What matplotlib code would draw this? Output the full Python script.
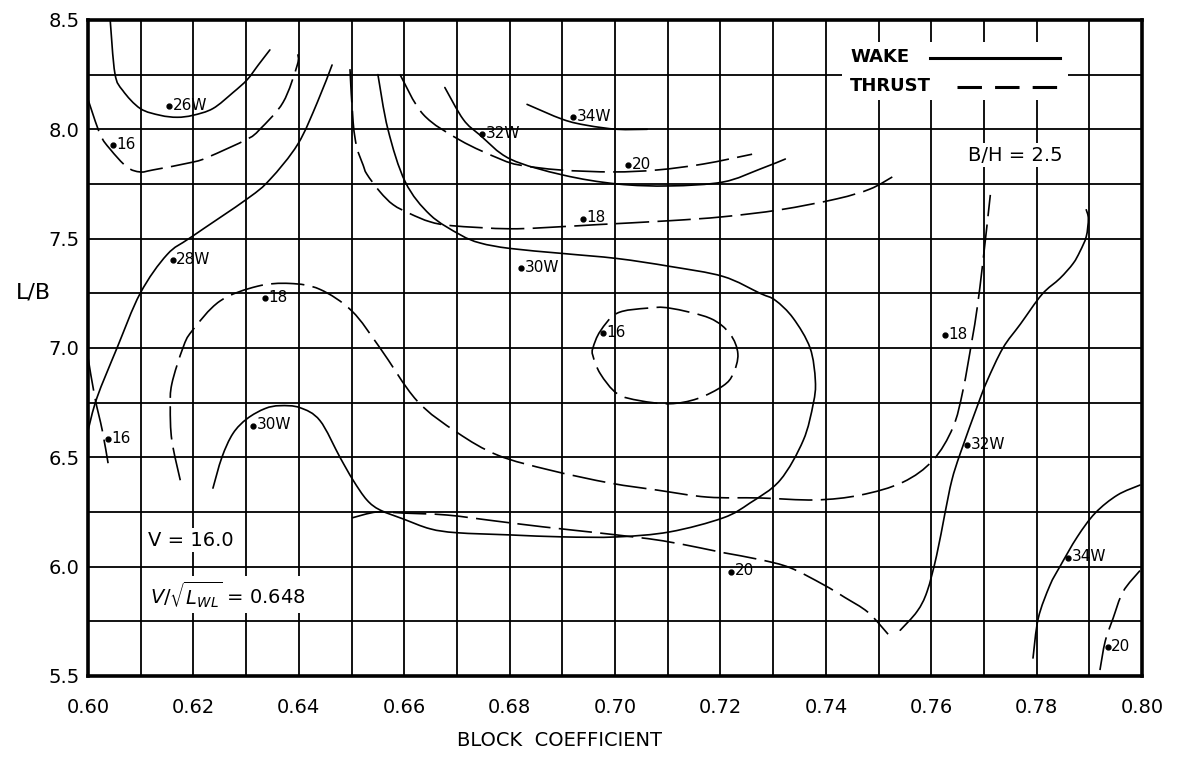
import numpy as np
import matplotlib
matplotlib.use('Agg')
import matplotlib.pyplot as plt
from matplotlib.ticker import MultipleLocator, FormatStrFormatter
from matplotlib.patches import Rectangle, PathPatch
from matplotlib.path import Path

FILE_IMG = 'out.png'

# --- WAKE contours (solid lines) ---
wake_26_x = [0.6042, 0.6051, 0.6066, 0.6099, 0.6137, 0.6169, 0.6199, 0.6237, 0.6275, 0.6302, 0.6323, 0.6345]
wake_26_y = [8.50, 8.255, 8.177, 8.095, 8.064, 8.055, 8.064, 8.095, 8.168, 8.227, 8.294, 8.363]

wake_28_x = [0.600, 0.6017, 0.6055, 0.6099, 0.6150, 0.6197, 0.6302, 0.6345, 0.6398, 0.6435, 0.6463]
wake_28_y = [6.623, 6.773, 7.0, 7.25, 7.427, 7.509, 7.682, 7.77, 7.932, 8.123, 8.294]

wake_30_x = [0.6237, 0.6254, 0.6275, 0.6302, 0.6336, 0.6364, 0.6402, 0.6440, 0.6478, 0.6503,
             0.6529, 0.6554, 0.6598, 0.6649, 0.6700, 0.6801, 0.6901, 0.7004, 0.7104, 0.7205,
             0.7256, 0.7313, 0.7357, 0.7376, 0.7380, 0.7370, 0.7338, 0.7304, 0.7275, 0.7205,
             0.7104, 0.7004, 0.6901, 0.6801, 0.6744, 0.6706, 0.6649, 0.6602, 0.6569, 0.6550]
wake_30_y = [6.359, 6.5, 6.609, 6.677, 6.723, 6.736, 6.727, 6.668, 6.5, 6.395,
             6.305, 6.259, 6.218, 6.173, 6.155, 6.145, 6.136, 6.136, 6.159, 6.223,
             6.291, 6.395, 6.577, 6.745, 6.85, 7.0, 7.136, 7.218, 7.25, 7.327,
             7.373, 7.409, 7.432, 7.455, 7.480, 7.518, 7.609, 7.759, 8.0, 8.25]

wake_32_x = [0.6677, 0.6712, 0.6744, 0.6801, 0.6901, 0.7004, 0.7104, 0.7205, 0.7275, 0.7323]
wake_32_y = [8.191, 8.045, 7.973, 7.864, 7.791, 7.75, 7.741, 7.759, 7.818, 7.864]

wake_34_x = [0.6833, 0.6901, 0.6947, 0.7004, 0.7061]
wake_34_y = [8.114, 8.045, 8.018, 8.0, 8.0]

wake_32r_x = [0.7541, 0.7573, 0.7592, 0.7610, 0.7626, 0.7639, 0.7655, 0.7689, 0.7706,
              0.7736, 0.7769, 0.7810, 0.7844, 0.7869, 0.7882, 0.7894, 0.7898, 0.7894]
wake_32r_y = [5.709, 5.795, 5.886, 6.05, 6.245, 6.395, 6.518, 6.745, 6.85,
              7.0, 7.109, 7.245, 7.318, 7.386, 7.441, 7.509, 7.591, 7.632]

wake_34r_x = [0.7793, 0.7803, 0.7825, 0.7844, 0.7877, 0.7911, 0.7953, 0.7996]
wake_34r_y = [5.582, 5.764, 5.914, 6.0, 6.136, 6.245, 6.327, 6.373]

# --- THRUST contours (dashed lines) ---
thrust_16a_x = [0.6000, 0.6023, 0.6042, 0.6074, 0.6099, 0.6123, 0.6199, 0.6228, 0.6302, 0.6326, 0.6370, 0.6397, 0.6398]
thrust_16a_y = [8.136, 7.977, 7.909, 7.827, 7.805, 7.814, 7.85, 7.873, 7.955, 8.0, 8.123, 8.294, 8.343]

thrust_16b_x = [0.600, 0.6013, 0.6027, 0.6038]
thrust_16b_y = [6.955, 6.773, 6.623, 6.473]

# closed loop (first point repeated at the end)
thrust_16c_x = [0.6958, 0.6972, 0.7004, 0.7061, 0.7104, 0.7180, 0.7218, 0.7233, 0.7224, 0.7205,
                0.7156, 0.7104, 0.7047, 0.7004, 0.6972, 0.6958, 0.6958]
thrust_16c_y = [7.0, 7.077, 7.159, 7.182, 7.182, 7.136, 7.064, 6.973, 6.882, 6.827,
                6.768, 6.745, 6.759, 6.791, 6.882, 6.964, 7.0]

thrust_18a_x = [0.6175, 0.6159, 0.6156, 0.6159, 0.6180, 0.6197, 0.6250, 0.6321, 0.6383, 0.6440,
                0.6501, 0.6554, 0.6624, 0.6700, 0.6778, 0.6877, 0.6991, 0.7080, 0.7175, 0.7275,
                0.7380, 0.7465, 0.7546, 0.7603, 0.7641, 0.7660, 0.7677, 0.7687, 0.7698, 0.7712]
thrust_18a_y = [6.395, 6.577, 6.727, 6.836, 7.0, 7.077, 7.214, 7.282, 7.295, 7.268,
                7.168, 7.0, 6.759, 6.614, 6.509, 6.441, 6.382, 6.35, 6.318, 6.314,
                6.305, 6.327, 6.386, 6.486, 6.636, 6.805, 7.032, 7.182, 7.395, 7.7]

thrust_18b_x = [0.6497, 0.6503, 0.6510, 0.6522, 0.6529, 0.6554, 0.6579, 0.6611, 0.6649, 0.6691,
                0.6801, 0.6901, 0.6966, 0.7104, 0.7205, 0.7313, 0.7421, 0.7484, 0.7526]
thrust_18b_y = [8.275, 8.032, 7.918, 7.836, 7.795, 7.714, 7.655, 7.614, 7.577, 7.559,
                7.545, 7.555, 7.564, 7.582, 7.6, 7.632, 7.682, 7.727, 7.782]

thrust_20a_x = [0.6592, 0.6636, 0.6706, 0.6782, 0.6820, 0.6896, 0.6996, 0.7080, 0.7167, 0.7260]
thrust_20a_y = [8.25, 8.068, 7.95, 7.864, 7.836, 7.814, 7.805, 7.814, 7.841, 7.886]

thrust_20b_x = [0.6501, 0.6548, 0.6598, 0.6681, 0.6772, 0.6863, 0.6966, 0.7034, 0.7091, 0.7161,
                0.7205, 0.7275, 0.7332, 0.7395, 0.7436, 0.7480, 0.7518]
thrust_20b_y = [6.223, 6.25, 6.245, 6.236, 6.209, 6.182, 6.155, 6.136, 6.118, 6.086,
                6.064, 6.032, 5.995, 5.918, 5.859, 5.791, 5.691]

thrust_20c_x = [0.7920, 0.7930, 0.7945, 0.7964, 0.7996]
thrust_20c_y = [5.527, 5.659, 5.764, 5.886, 5.982]

# --- Point labels on the contours ---
label_x = [0.6154, 0.6047, 0.6161, 0.6336, 0.6313, 0.6038, 0.6748, 0.6920, 0.7025,
           0.6939, 0.6822, 0.6977, 0.7626, 0.7668, 0.7220, 0.7860, 0.7935]
label_y = [8.105, 7.927, 7.40, 7.227, 6.645, 6.582, 7.977, 8.055, 7.836,
           7.591, 7.364, 7.068, 7.059, 6.555, 5.977, 6.041, 5.632]
label_text = ['26W', '16', '28W', '18', '30W', '16', '32W', '34W', '20',
              '18', '30W', '16', '18', '32W', '20', '34W', '20']

x_ticks = [0.60, 0.62, 0.64, 0.66, 0.68, 0.70, 0.72, 0.74, 0.76, 0.78, 0.80]
y_ticks = [5.5, 6.0, 6.5, 7.0, 7.5, 8.0, 8.5]


def smooth_curve(xs, ys):
    # curve through the read points, drawn as cubic Bezier pieces (Catmull-Rom style)
    p = np.column_stack([xs, ys]).astype(float)
    closed = np.allclose(p[0], p[-1])
    n = len(p)
    verts = [p[0]]
    codes = [Path.MOVETO]
    for i in range(n - 1):
        if i > 0:
            p0 = p[i - 1]
        else:
            p0 = p[n - 2] if closed else p[0]
        if i + 2 < n:
            p3 = p[i + 2]
        else:
            p3 = p[1] if closed else p[n - 1]
        p1, p2 = p[i], p[i + 1]
        verts += [p1 + (p2 - p0) / 6.0, p2 - (p3 - p1) / 6.0, p2]
        codes += [Path.CURVE4] * 3
    return Path(verts, codes)


def main():
    fig = plt.figure(figsize=(11.85, 7.59), dpi=100)
    ax = fig.add_axes([0.0743, 0.1094, 0.8895, 0.8643])

    ax.set_xlim(0.60, 0.80)
    ax.set_ylim(5.5, 8.5)
    ax.set_xticks(x_ticks)
    ax.set_yticks(y_ticks)
    ax.xaxis.set_minor_locator(MultipleLocator(0.01))
    ax.yaxis.set_minor_locator(MultipleLocator(0.25))
    ax.xaxis.set_major_formatter(FormatStrFormatter('%.2f'))
    ax.yaxis.set_major_formatter(FormatStrFormatter('%.1f'))
    ax.tick_params(which='both', length=0, labelsize=14)
    ax.tick_params(axis='x', pad=16)
    ax.tick_params(axis='y', pad=6)
    ax.set_axisbelow(True)
    ax.grid(which='both', color='black', linewidth=1.3)
    for sp in ax.spines.values():
        sp.set_linewidth(2.6)

    # wake = solid, thrust = dashed
    wake = [(wake_26_x, wake_26_y), (wake_28_x, wake_28_y), (wake_30_x, wake_30_y),
            (wake_32_x, wake_32_y), (wake_34_x, wake_34_y), (wake_32r_x, wake_32r_y),
            (wake_34r_x, wake_34r_y)]
    thrust = [(thrust_16a_x, thrust_16a_y), (thrust_16b_x, thrust_16b_y), (thrust_16c_x, thrust_16c_y),
              (thrust_18a_x, thrust_18a_y), (thrust_18b_x, thrust_18b_y), (thrust_20a_x, thrust_20a_y),
              (thrust_20b_x, thrust_20b_y), (thrust_20c_x, thrust_20c_y)]
    for cx, cy in wake:
        ax.add_patch(PathPatch(smooth_curve(cx, cy), facecolor='none', edgecolor='black',
                               lw=1.2, zorder=3, capstyle='round'))
    for cx, cy in thrust:
        ax.add_patch(PathPatch(smooth_curve(cx, cy), facecolor='none', edgecolor='black',
                               lw=1.2, zorder=3, linestyle=(0, (20, 5))))

    # dotted point labels
    ax.plot(label_x, label_y, 'o', color='black', ms=3.5, zorder=4)
    for x, y, t in zip(label_x, label_y, label_text):
        ax.annotate(t, (x, y), xytext=(2.5, -2.5), textcoords='offset points',
                    fontsize=11, ha='left', va='baseline', zorder=4)

    # legend box (drawn by hand: text left, line right)
    ax.add_patch(Rectangle((0.7154, 0.878), 0.2144, 0.088, transform=ax.transAxes,
                           facecolor='white', edgecolor='none', zorder=1))
    ax.text(0.7230, 0.9436, 'WAKE', transform=ax.transAxes, fontsize=13,
            fontweight='bold', va='center', ha='left', zorder=5)
    ax.text(0.7230, 0.899, 'THRUST', transform=ax.transAxes, fontsize=13,
            fontweight='bold', va='center', ha='left', zorder=5)
    ax.plot([0.7989, 0.9222], [0.942, 0.942], transform=ax.transAxes,
            color='black', lw=2.2, zorder=5)
    ax.plot([0.8245, 0.9222], [0.898, 0.898], transform=ax.transAxes,
            color='black', lw=2.2, linestyle=(0, (8, 4.3)), zorder=5)

    box = dict(facecolor='white', edgecolor='none', pad=2)
    ax.text(0.8795, 0.794, 'B/H = 2.5', transform=ax.transAxes, fontsize=14,
            ha='center', va='center', bbox=box, zorder=5)
    ax.text(0.057, 0.207, 'V = 16.0', transform=ax.transAxes, fontsize=14,
            ha='left', va='center', bbox=box, zorder=5)
    ax.text(0.059, 0.124, r'$V/\sqrt{L_{WL}}$ = 0.648', transform=ax.transAxes,
            fontsize=14, ha='left', va='center', bbox=box, zorder=5)

    ax.set_xlabel('BLOCK  COEFFICIENT', fontsize=14, va='center')
    ax.xaxis.set_label_coords(0.447, -0.099)
    ax.set_ylabel('L/B', fontsize=16, rotation=0, va='center', ha='center')
    ax.yaxis.set_label_coords(-0.052, 0.584)

    fig.savefig(FILE_IMG, dpi=100)


if __name__ == "__main__":
    main()
